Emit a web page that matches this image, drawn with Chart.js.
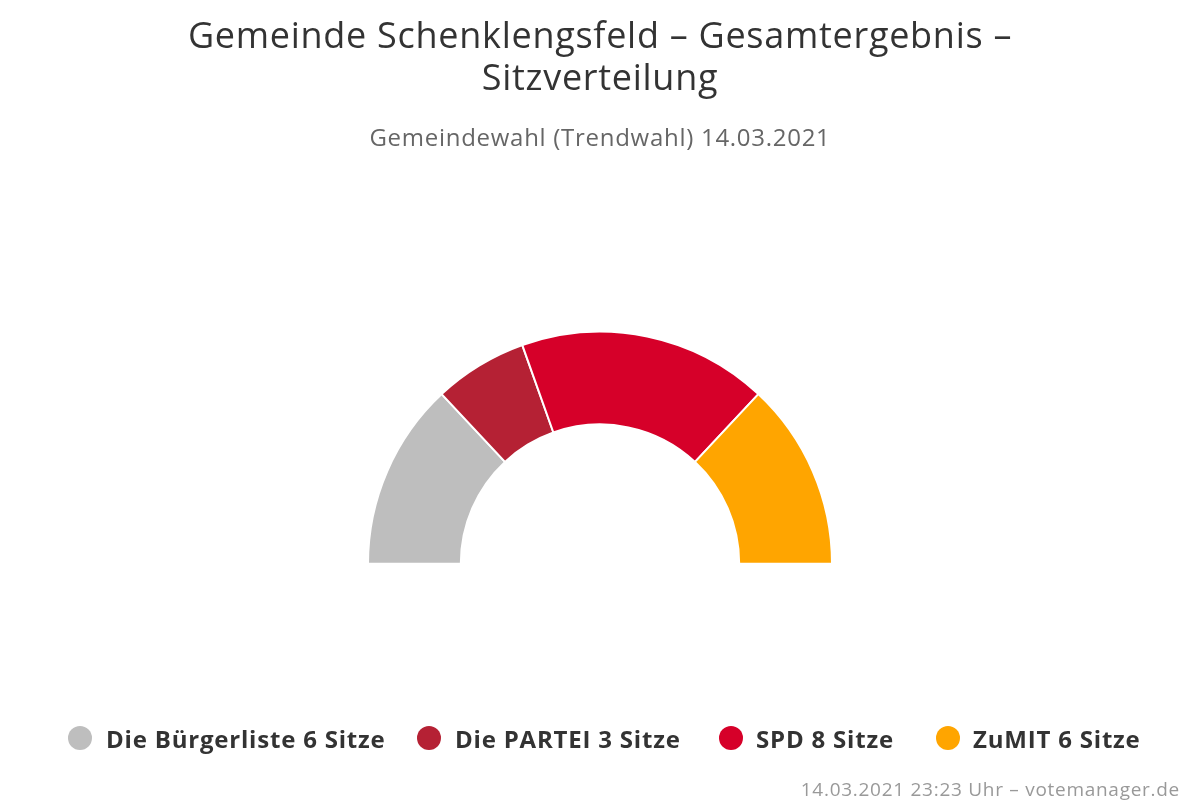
<!DOCTYPE html>
<html>
<head>
<meta charset="utf-8">
<style>
html, body { margin: 0; padding: 0; background: #fff; }
#wrap { position: relative; width: 1200px; height: 800px; }
</style>
<script src="https://cdn.jsdelivr.net/npm/chart.js@4"></script>
</head>
<body>
<div id="wrap"><canvas id="myChart" width="1200" height="800"></canvas></div>
<script>
var parties = ['Die Bürgerliste', 'Die PARTEI', 'SPD', 'ZuMIT'];
var seats = [6, 3, 8, 6];
var colors = ['#bebebe', '#b52134', '#d60029', '#ffa500'];
var titleLines = ['Gemeinde Schenklengsfeld – Gesamtergebnis –', 'Sitzverteilung'];
var subtitleText = 'Gemeindewahl (Trendwahl) 14.03.2021';
var creditText = '14.03.2021 23:23 Uhr – votemanager.de';
var fontName = '"Open Sans", sans-serif';

var extras = {
    id: 'extras',
    beforeDraw: function (chart) {
        // the original font runs a bit wider than Open Sans
        chart.ctx.letterSpacing = '0.72px';
    },
    afterDraw: function (chart) {
        // legend is drawn by hand so the spacing follows the original
        var dotX = [80, 429, 731, 948];
        var textX = [106, 455, 756, 973];
        var c = chart.ctx;
        c.save();
        c.textBaseline = 'alphabetic';
        c.textAlign = 'left';
        for (var i = 0; i < parties.length; i++) {
            c.fillStyle = colors[i];
            c.beginPath();
            c.arc(dotX[i], 738, 12, 0, Math.PI * 2);
            c.fill();
            c.fillStyle = '#333333';
            c.font = 'bold 24px ' + fontName;
            c.letterSpacing = '0.8px';
            c.fillText(parties[i] + ' ' + seats[i] + ' Sitze', textX[i], 748);
        }
        c.fillStyle = '#999999';
        c.font = '19px ' + fontName;
        c.letterSpacing = '0.72px';
        c.textAlign = 'right';
        c.fillText(creditText, 1180, 796);
        c.restore();
    }
};

var ctx = document.getElementById('myChart').getContext('2d');
var chart = new Chart(ctx, {
    type: 'doughnut',
    data: {
        labels: parties,
        datasets: [{
            data: seats,
            backgroundColor: colors,
            borderColor: '#ffffff',
            borderWidth: 2,
            borderAlign: 'center'
        }]
    },
    options: {
        responsive: false,
        animation: false,
        rotation: -90,
        circumference: 180,
        cutout: '60%',
        radius: 232,
        layout: { padding: { top: 0, bottom: 58 } },
        plugins: {
            legend: { display: false },
            tooltip: { enabled: false },
            title: {
                display: true,
                text: titleLines,
                color: '#333333',
                font: { family: fontName, size: 36, weight: 'normal', lineHeight: 1.16 },
                padding: { top: 17, bottom: 0 }
            },
            subtitle: {
                display: true,
                text: subtitleText,
                color: '#666666',
                font: { family: fontName, size: 24, weight: 'normal' },
                padding: { top: 24, bottom: 0 }
            }
        }
    },
    plugins: [extras]
});
</script>
</body>
</html>
